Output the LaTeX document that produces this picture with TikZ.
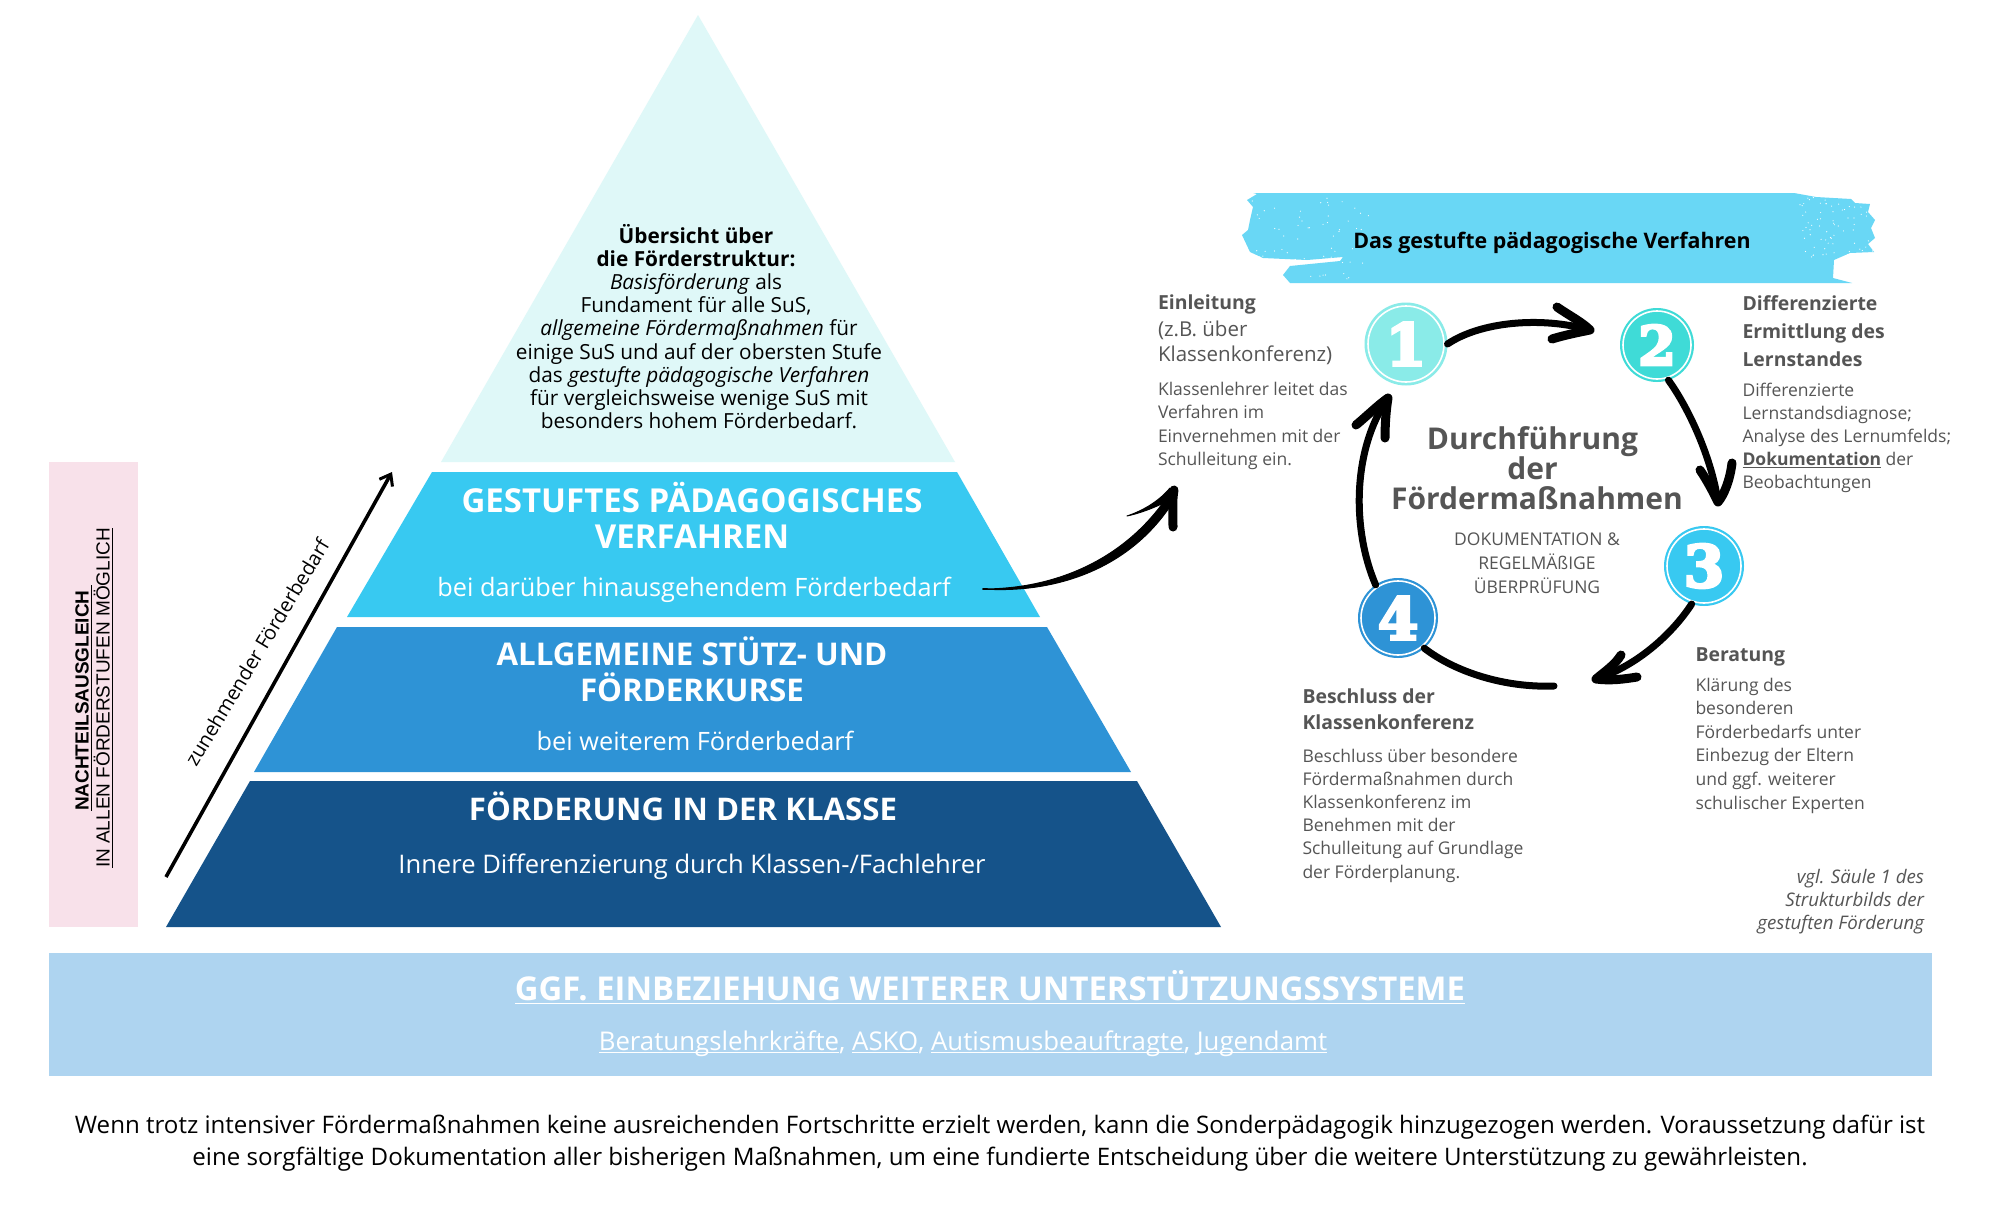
\documentclass[tikz,border=0pt]{standalone}
\usepackage{fontspec}
\setmainfont{Open Sans}
\newfontfamily\arialf{Liberation Sans}
\newfontfamily\numf[BoldFeatures={FakeBold=5}]{DejaVu Serif}
\usetikzlibrary{arrows.meta}
\definecolor{tierT}{HTML}{DFF8F8}
\definecolor{tierC}{HTML}{38C9F1}
\definecolor{tierB}{HTML}{2E93D6}
\definecolor{tierA}{HTML}{15538A}
\definecolor{numA}{HTML}{8AEBE8}
\definecolor{numB}{HTML}{3FDBD7}
\definecolor{banner}{HTML}{69D7F5}
\definecolor{pinkbox}{HTML}{F8E1EA}
\definecolor{bandblue}{HTML}{AED4F0}
\definecolor{greytxt}{HTML}{555555}
\newcommand{\fs}[2]{\fontsize{#1}{#2}\selectfont}
\newsavebox\ulbox
\newcommand{\ubl}[2][2.6pt]{\sbox\ulbox{#2}\rlap{\rule[-#1]{\wd\ulbox}{1.3pt}}\usebox\ulbox}
\newcommand{\kernline}[2]{\mbox{#2\kern#1pt}}
\tikzset{
  x=1pt,y=-1pt,
  every node/.style={inner sep=0pt,outer sep=0pt},
  tier/.style={fill=#1,draw=none},
  lvlhead/.style={anchor=center,align=center,text=white,font=\fs{33}{36}\bfseries},
  lvlsub/.style={anchor=mid,text=white,font=\fs{25.3}{30}},
  numdisc/.style={circle,fill=#1,minimum size=82pt,text=white,font=\numf\bfseries\fs{58}{60}},
  ringline/.style={draw=white,line width=1.6pt},
  brush/.style={line width=7pt,line cap=round,line join=round,draw=black},
  brushhead/.style={line width=9pt,line cap=round,line join=round,draw=black},
  steptitle/.style={anchor=west,align=left,text=greytxt,font=\fs{19.4}{28}\bfseries},
  stepsub/.style={anchor=west,align=left,text=greytxt,font=\fs{20.5}{25.5}},
  steptext/.style={anchor=west,align=left,text=greytxt,font=\fs{17.5}{23.2}},
}
\begin{document}
\begin{tikzpicture}
\useasboundingbox (0,0) rectangle (2000,1226);
\fill[white] (0,0) rectangle (2000,1226);

% pyramid
\fill[tier=tierT] (698,15) -- (955,462) -- (441,462) -- cycle;
\fill[tier=tierC] (432,472) -- (957,472) -- (1040,617) -- (347,617) -- cycle;
\fill[tier=tierB] (337,627) -- (1047,627) -- (1131,772) -- (254,772) -- cycle;
\fill[tier=tierA] (250,781) -- (1137,781) -- (1221,927) -- (166,927) -- cycle;

% side boxes
\node[fill=pinkbox,minimum width=89pt,minimum height=465pt] (pink) at (93.5,694.5) {};
\node[fill=bandblue,minimum width=1883pt,minimum height=123pt] (band) at (990.5,1014.5) {};

\node[rotate=90,anchor=mid,font=\arialf\fs{19}{24}\bfseries] (nt) at (86,698) {\ubl[3.4pt]{NACHTEILSAUSGLEICH\ }};
\node[rotate=90,anchor=mid,font=\arialf\fs{19}{24}] (nb) at (107,698) {\ubl[3.4pt]{IN ALLEN FÖRDERSTUFEN MÖGLICH}};

% increasing need arrow
\coordinate (needa) at (166,877);
\coordinate (needb) at (392,472);
\draw[line width=3.6pt,-{Straight Barb[length=10pt,width=15pt,line width=3pt]}] (needa) -- (needb);
\node[rotate=59,anchor=mid,font=\fs{20}{24}] (needl) at (261,655) {zunehmender Förderbedarf};

% top text
\node[anchor=center,align=center,font=\fs{20.8}{23.2}] (toptxt) at (699,326.5) {%
\kernline{6}{\bfseries Übersicht über}\\
\kernline{6}{\bfseries die Förderstruktur:}\\
\kernline{6}{\textit{Basisförderung} als}\\
\kernline{6}{Fundament für alle SuS,}\\
\textit{allgemeine Fördermaßnahmen} für\\
einige SuS und auf der obersten Stufe\\
das \textit{gestufte pädagogische Verfahren}\\
für vergleichsweise wenige SuS mit\\
besonders hohem Förderbedarf.};

% level texts
\node[lvlhead] (c1) at (692,515) {GESTUFTES PÄDAGOGISCHES\\VERFAHREN};
\node[lvlsub] (c2) at (694,594) {bei darüber hinausgehendem Förderbedarf};
\node[lvlhead,font=\fs{31.3}{36}\bfseries] (b1) at (692,669) {ALLGEMEINE STÜTZ- UND\\FÖRDERKURSE};
\node[lvlsub] (b2) at (695,748) {bei weiterem Förderbedarf};
\node[lvlhead,font=\fs{31.2}{36}\bfseries] (a1) at (683,806.5) {FÖRDERUNG IN DER KLASSE};
\node[lvlsub,font=\fs{25.6}{30}] (a2) at (692,871) {Innere Differenzierung durch Klassen-/Fachlehrer};

% big arrow
\coordinate (bigs) at (983,589);
\coordinate (bigt) at (1174,490);
\fill[line join=round,draw=black,line width=1pt] (bigs) .. controls (1060,589) and (1130,556) .. (1171,491) -- (1176,497) .. controls (1135,566) and (1060,594) .. cycle;
\draw[line width=2pt,line cap=round] (983,589) -- (987,589);
\fill[draw=black,line width=1pt,line join=round] (1127,516) .. controls (1145,510) and (1160,500) .. (1170,488) -- (1174,498) .. controls (1160,505) and (1145,512) .. cycle;
\draw[line width=9pt,line cap=round,line join=round] (bigt) .. controls (1172,500) and (1173,515) .. (1173,527);

% banner
\fill[banner] (1253,193) -- (1257,194) -- (1247,200) -- (1253,207) -- (1250,220) -- (1248,230) -- (1242,235) -- (1250,252) -- (1263,258) -- (1307,260) -- (1343,257) -- (1340,261) -- (1290,266) -- (1283,275) -- (1290,283) -- (1852,283) -- (1833,278) -- (1834,260) -- (1850,253) -- (1874,252) -- (1868,244) -- (1875,238) -- (1871,228) -- (1875,220) -- (1868,212) -- (1870,204) -- (1855,203) -- (1851,199) -- (1816,197) -- (1794,193) -- cycle;
\pgfmathsetseed{7}
\foreach \i in {1,...,70}{
  \pgfmathsetmacro{\rx}{1250+rnd*120}
  \pgfmathsetmacro{\ry}{197+rnd*82}
  \fill[white] (\rx,\ry) circle[radius=0.6];
  \pgfmathsetmacro{\qx}{1800+rnd*75}
  \pgfmathsetmacro{\qy}{197+rnd*60}
  \fill[white] (\qx,\qy) circle[radius=0.6];
}
\node[anchor=mid,font=\fs{21.4}{26}\bfseries] (bannert) at (1552,246) {Das gestufte pädagogische Verfahren};

% step discs
\node[numdisc=numA,minimum size=83pt] (n1) at (1406,344) {1};
\node[numdisc=numB,minimum size=74pt,font=\numf\bfseries\fs{54}{56}] (n2) at (1657,345) {2};
\node[numdisc=tierC,minimum size=80pt] (n3) at (1704,566) {3};
\node[numdisc=tierB,minimum size=80pt] (n4) at (1398,618) {4};
\draw[ringline] (n1) circle[radius=38];
\draw[ringline] (n2) circle[radius=34];
\draw[ringline] (n3) circle[radius=37];
\draw[ringline] (n4) circle[radius=37];

% cycle arrows
\coordinate (t12) at (1590,330);
\coordinate (t23) at (1718,502);
\coordinate (t34) at (1596,679);
\coordinate (e4) at (1554,686);
\coordinate (t41) at (1388,398);
\draw[brush] (n1.east) .. controls (1480,322) and (1540,316) .. (t12);
\draw[brushhead] (1557,307) .. controls (1570,316) and (1582,322) .. (t12) .. controls (1580,332) and (1565,335) .. (1552,339);
\draw[brush] (n2.-72) .. controls (1690,410) and (1712,460) .. (t23);
\draw[brushhead] (1700,470) .. controls (1708,482) and (1713,492) .. (t23) .. controls (1724,495) and (1730,480) .. (1732,463);
\draw[brush] (n3.-108) .. controls (1675,630) and (1640,665) .. (t34);
\draw[brushhead] (1621,655) .. controls (1615,665) and (1604,672) .. (t34) .. controls (1610,681) and (1625,679) .. (1637,677);
\draw[brush] (n4.-49) .. controls (1455,672) and (1505,688) .. (e4);
\draw[brush] (n4.124) .. controls (1352,530) and (1352,450) .. (t41);
\draw[brushhead] (1356,425) .. controls (1368,415) and (1378,405) .. (t41) .. controls (1386,410) and (1385,425) .. (1385,438);

% centre text
\node[anchor=center,align=center,text=greytxt,font=\fs{30}{30}\bfseries] (centre) at (1537,468.5) {\kernline{9}{Durchführung}\\\kernline{9}{der}\\Fördermaßnahmen};
\node[anchor=center,align=center,text=greytxt,font=\fs{17.5}{24}] (doc) at (1537,563) {DOKUMENTATION \&\\REGELMÄßIGE\\ÜBERPRÜFUNG};

% step texts
\node[steptitle] (s1t) at (1158,304) {Einleitung};
\node[stepsub] (s1s) at (1158,343) {(z.B. über\\Klassenkonferenz)};
\node[steptext] (s1p) at (1158,426) {Klassenlehrer leitet das\\Verfahren im\\Einvernehmen mit der\\Schulleitung ein.};
\node[steptitle] (s2t) at (1742.5,331) {Differenzierte\\Ermittlung des\\Lernstandes};
\node[steptext] (s2p) at (1742.5,438) {Differenzierte\\Lernstandsdiagnose;\\Analyse des Lernumfelds;\\\ubl{\textbf{Dokumentation}} der\\Beobachtungen};
\node[steptitle] (s3t) at (1695.5,656.5) {Beratung};
\node[steptext,font=\fs{17.5}{23.6}] (s3p) at (1695.5,745.5) {Klärung des\\besonderen\\Förderbedarfs unter\\Einbezug der Eltern\\und ggf. weiterer\\schulischer Experten};
\node[steptitle,font=\fs{19.4}{26}\bfseries] (s4t) at (1302.5,709) {Beschluss der\\Klassenkonferenz};
\node[steptext] (s4p) at (1302.5,815.5) {Beschluss über besondere\\Fördermaßnahmen durch\\Klassenkonferenz im\\Benehmen mit der\\Schulleitung auf Grundlage\\der Förderplanung.};
\node[anchor=east,align=right,text=greytxt,font=\fs{18.7}{23}\itshape] (cf) at (1924,902) {vgl. Säule 1 des\\Strukturbilds der\\gestuften Förderung};

% band text
\node[anchor=mid,text=white,font=\fs{32.8}{36}\bfseries] (bandh) at (990,998) {\ubl[3.5pt]{GGF. EINBEZIEHUNG WEITERER UNTERSTÜTZUNGSSYSTEME}};
\node[anchor=mid,text=white,font=\fs{25.8}{30}] (bands) at (963,1048) {\ubl{Beratungslehrkräfte}, \ubl{ASKO}, \ubl{Autismusbeauftragte}, \ubl{Jugendamt}};

% bottom
\node[anchor=center,align=center,font=\fs{24.1}{32}] (foot) at (1000,1143) {Wenn trotz intensiver Fördermaßnahmen keine ausreichenden Fortschritte erzielt werden, kann die Sonderpädagogik hinzugezogen werden. Voraussetzung dafür ist\\eine sorgfältige Dokumentation aller bisherigen Maßnahmen, um eine fundierte Entscheidung über die weitere Unterstützung zu gewährleisten.};
\end{tikzpicture}
\end{document}
